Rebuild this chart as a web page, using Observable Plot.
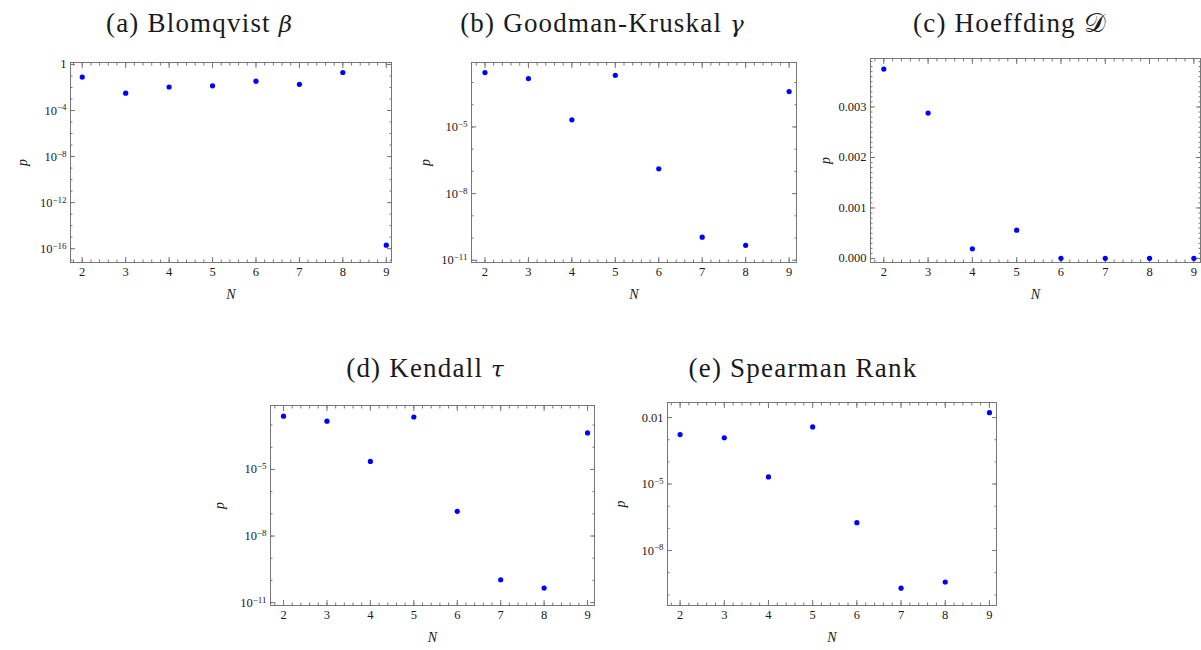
<!DOCTYPE html>
<html>
<head>
<meta charset="utf-8">
<script src="https://cdn.jsdelivr.net/npm/d3@7"></script>
<script src="https://cdn.jsdelivr.net/npm/@observablehq/plot@0.6"></script>
<style>
  html, body { margin: 0; padding: 0; background: #fff; }
  #root { position: relative; width: 1201px; height: 650px; overflow: hidden; background: #fff; }
  .panel { position: absolute; }
  .title { position: absolute; transform: translateX(-50%); white-space: nowrap;
           font-family: "Liberation Serif", "DejaVu Serif", serif; font-size: 27px; letter-spacing: 1.2px;
           line-height: 1; color: #1a1a1a; }
  .title i { font-family: "DejaVu Serif", "Liberation Serif", serif; font-size: 23px; letter-spacing: 0; }
  g[aria-label="x-axis label"] text, g[aria-label="y-axis label"] text { font-style: italic; font-size: 14px; }
</style>
</head>
<body>
<div id="root"></div>
<script>
// ---------- data ----------
const N = [2, 3, 4, 5, 6, 7, 8, 9];
const pBlomqvist = [0.08, 0.0032, 0.011, 0.014, 0.035, 0.019, 0.2, 2e-16];
const pGoodmanKruskal = [2.8e-3, 1.5e-3, 2.1e-5, 2.1e-3, 1.3e-7, 1.1e-10, 4.7e-11, 3.9e-4];
const pHoeffding = [0.00375, 0.00288, 0.00019, 0.00056, 0.000003, 0.000003, 0.000003, 0.000003];
const pKendall = [2.5e-3, 1.5e-3, 2.3e-5, 2.3e-3, 1.3e-7, 1.07e-10, 4.5e-11, 4.4e-4];
const pSpearman = [1.7e-3, 1.23e-3, 2.1e-5, 3.8e-3, 1.8e-7, 2.0e-10, 3.8e-10, 1.66e-2];

const titles = ["(a) Blomqvist <i>β</i>", "(b) Goodman-Kruskal <i>γ</i>", "(c) Hoeffding 𝒟",
                "(d) Kendall <i>τ</i>", "(e) Spearman Rank"];

// tick labels
const yTicksA = [1, 1e-4, 1e-8, 1e-12, 1e-16];
const yTicksB = [1e-5, 1e-8, 1e-11];
const yTicksC = [0, 0.001, 0.002, 0.003];
const yTicksD = [1e-5, 1e-8, 1e-11];
const yTicksE = [1e-2, 1e-5, 1e-8];

// ---------- helpers ----------
function powFmt(v) {
  const e = Math.round(Math.log10(v));
  if (e === 0) return "1";
  if (e === -2) return "0.01";
  return "10^" + String(e).replace("-", "−");
}
const decades = (lo, hi) => d3.range(lo, hi + 1).map(e => Math.pow(10, e));

function panel(cfg) {
  const data = N.map((n, i) => ({N: n, p: cfg.values[i]}));
  const mL = 70, mT = 10, mR = cfg.mR ?? 5, mB = 50;
  const fw = cfg.right - cfg.left, fh = cfg.bottom - cfg.top;
  const xMinor = d3.range(16, 93, 2).map(v => v / 10)
    .filter(v => v > cfg.xDomain[0] && v < cfg.xDomain[1]);
  const frameColor = "#777";
  const textColor = "#1a1a1a";
  const chart = Plot.plot({
    width: fw + mL + mR,
    height: fh + mT + mB,
    marginLeft: mL, marginTop: mT, marginRight: mR, marginBottom: mB,
    style: {fontFamily: "Liberation Serif, serif", fontSize: "12.5px", background: "transparent"},
    x: {domain: cfg.xDomain},
    y: {type: cfg.yType, domain: cfg.yDomain},
    marks: [
      Plot.frame({stroke: frameColor, strokeWidth: 1}),
      Plot.axisX(xMinor, {anchor: "bottom", tickSize: -2.5, text: null, stroke: frameColor, label: null}),
      Plot.axisX(xMinor, {anchor: "top", tickSize: -2.5, text: null, stroke: frameColor, label: null}),
      Plot.axisX(N, {anchor: "bottom", tickSize: -5, text: null, stroke: frameColor, label: null}),
      Plot.axisX(N, {anchor: "top", tickSize: -5, text: null, stroke: frameColor, label: null}),
      Plot.axisX(N, {anchor: "bottom", tickSize: 0, tickPadding: 5, fill: textColor, tickFormat: d => String(d),
                     label: "N", labelAnchor: "center", labelOffset: 36, labelArrow: "none"}),
      Plot.axisY(cfg.yMinor, {anchor: "left", tickSize: -2.5, text: null, stroke: frameColor, label: null}),
      Plot.axisY(cfg.yMinor, {anchor: "right", tickSize: -2.5, text: null, stroke: frameColor, label: null}),
      Plot.axisY(cfg.yTicks, {anchor: "left", tickSize: -5, text: null, stroke: frameColor, label: null}),
      Plot.axisY(cfg.yTicks, {anchor: "right", tickSize: -5, text: null, stroke: frameColor, label: null}),
      Plot.axisY(cfg.yTicks, {anchor: "left", tickSize: 0, tickPadding: 4, fill: textColor, tickFormat: cfg.yFormat,
                     label: "p", labelAnchor: "center", labelOffset: cfg.pOffset ?? 53, labelArrow: "none"}),
      Plot.dot(data, {x: "N", y: "p", r: 2.6, fill: "#0000ff", stroke: null})
    ]
  });
  // render "10^e" tick labels with a real superscript
  chart.querySelectorAll('g[aria-label="y-axis tick label"] text').forEach(t => {
    const s = t.textContent;
    if (s.includes("^")) {
      const [base, exp] = s.split("^");
      t.textContent = "";
      const ns = "http://www.w3.org/2000/svg";
      const b = document.createElementNS(ns, "tspan");
      b.textContent = base;
      const e = document.createElementNS(ns, "tspan");
      e.textContent = exp;
      e.setAttribute("dy", "-0.45em");
      e.setAttribute("font-size", "9px");
      t.appendChild(b);
      t.appendChild(e);
    }
  });
  const div = document.createElement("div");
  div.className = "panel";
  div.style.left = (cfg.left - mL) + "px";
  div.style.top = (cfg.top - mT) + "px";
  div.appendChild(chart);
  document.getElementById("root").appendChild(div);

  const t = document.createElement("div");
  t.className = "title";
  t.innerHTML = cfg.title;
  t.style.left = cfg.titleX + "px";
  t.style.top = cfg.titleY + "px";
  document.getElementById("root").appendChild(t);
}

panel({values: pBlomqvist, title: titles[0], titleX: 199, titleY: 10,
       left: 70, right: 391, top: 62, bottom: 262,
       xDomain: [1.73, 9.12], yType: "log", yDomain: [Math.pow(10, -17.2), Math.pow(10, 0.17)],
       yTicks: yTicksA, yMinor: decades(-17, 0), yFormat: powFmt});

panel({values: pGoodmanKruskal, title: titles[1], titleX: 602, titleY: 10,
       left: 471, right: 796, top: 62, bottom: 262,
       xDomain: [1.69, 9.17], yType: "log", yDomain: [Math.pow(10, -11.1), Math.pow(10, -2.1)],
       yTicks: yTicksB, yMinor: decades(-11, -3), yFormat: powFmt, pOffset: 51});

panel({values: pHoeffding, title: titles[2], titleX: 1010, titleY: 10,
       left: 870, right: 1200, top: 58, bottom: 262, mR: 1,
       xDomain: [1.70, 9.15], yType: "linear", yDomain: [-0.00008, 0.00396],
       yTicks: yTicksC, yMinor: d3.range(0, 40).map(i => i * 0.0001), yFormat: d3.format(".3f"), pOffset: 50});

panel({values: pKendall, title: titles[3], titleX: 425, titleY: 355,
       left: 270, right: 594, top: 405, bottom: 605,
       xDomain: [1.70, 9.16], yType: "log", yDomain: [Math.pow(10, -11.13), Math.pow(10, -2.12)],
       yTicks: yTicksD, yMinor: decades(-11, -3), yFormat: powFmt, pOffset: 56});

panel({values: pSpearman, title: titles[4], titleX: 803, titleY: 355,
       left: 667, right: 996, top: 402, bottom: 605,
       xDomain: [1.715, 9.16], yType: "log", yDomain: [Math.pow(10, -10.48), Math.pow(10, -1.32)],
       yTicks: yTicksE, yMinor: decades(-10, -2), yFormat: powFmt, pOffset: 52});
</script>
</body>
</html>
